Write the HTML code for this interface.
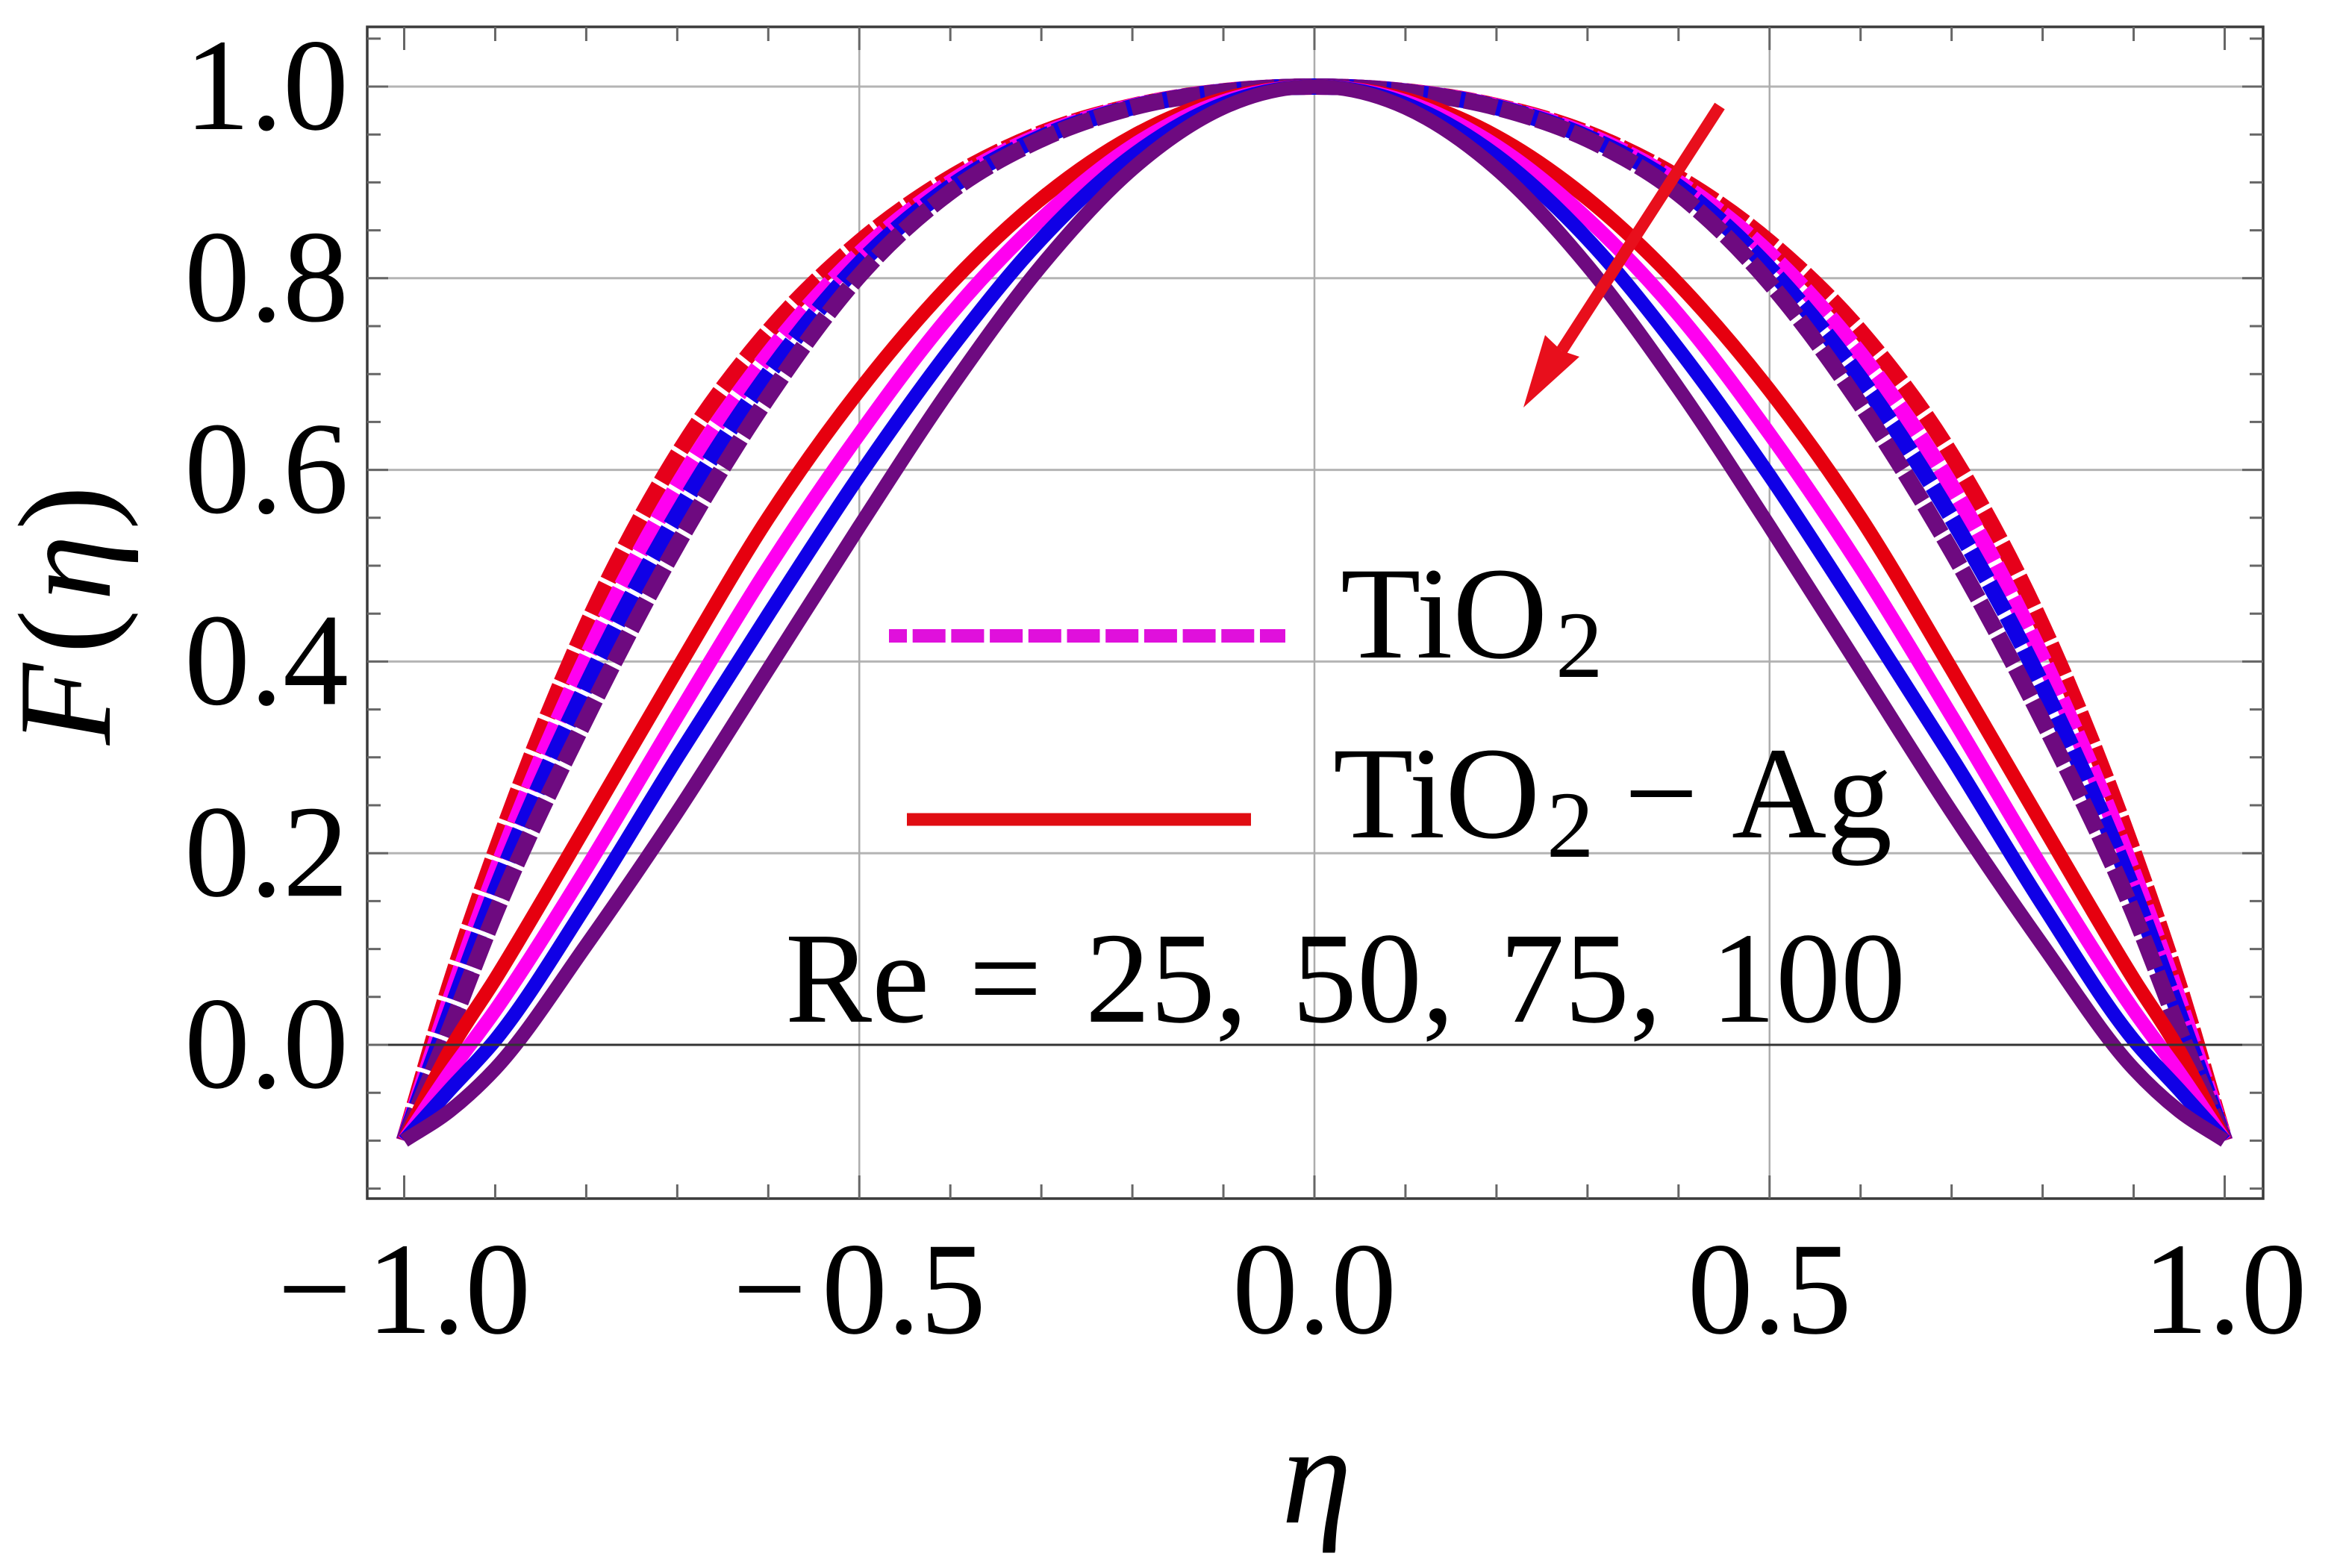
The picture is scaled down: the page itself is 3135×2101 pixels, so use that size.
<!DOCTYPE html>
<html>
<head>
<meta charset="utf-8">
<title>F(eta) chart</title>
<style>
html,body{margin:0;padding:0;background:#fff;}
svg{display:block;}
text{font-family:"Liberation Serif","DejaVu Serif",serif;fill:#000;}
</style>
</head>
<body>
<svg id="chart" xmlns="http://www.w3.org/2000/svg" width="3135" height="2101" viewBox="0 0 3135 2101">
  <rect x="0" y="0" width="3135" height="2101" fill="#ffffff"/>
  <g id="grid"></g>
  <g id="curves"></g>
  <g id="axes"></g>
  <g id="labels"></g>

  <g>
    <line x1="2304" y1="142" x2="2092" y2="470" stroke="#e80f1c" stroke-width="16"/>
    <polygon points="2041,546 2070,449 2092,470 2116,478" fill="#e80f1c"/>
  </g>

  <g>
    <line x1="1191" y1="852" x2="1722" y2="852" stroke="#e010dc" stroke-width="18" stroke-dasharray="44 7.7" stroke-dashoffset="20"/>
    <text y="881" font-size="176"><tspan x="1796">TiO</tspan><tspan x="2084" font-size="127" dy="26">2</tspan></text>
    <line x1="1215" y1="1098" x2="1676" y2="1098" stroke="#e00d12" stroke-width="17"/>
    <text y="1122" font-size="176"><tspan x="1786">TiO</tspan><tspan x="2072" font-size="127" dy="26">2</tspan><tspan x="2176" dy="-26">−</tspan><tspan x="2320">Ag</tspan></text>
    <text y="1369" font-size="174"><tspan x="1052">Re</tspan><tspan x="1298">=</tspan><tspan x="1454">25,</tspan><tspan x="1731">50,</tspan><tspan x="2009">75,</tspan><tspan x="2292">100</tspan></text>
  </g>

  <text font-size="178" transform="translate(147,0) rotate(-90)"><tspan x="-998" font-style="italic">F</tspan><tspan x="-876">(</tspan><tspan x="-805" font-style="italic">η</tspan><tspan x="-710">)</tspan></text>
  <text font-size="190" font-style="italic" text-anchor="middle" x="1764" y="2040">η</text>
</svg>
<script>
// ---- data ----
const etaValues = [-1,-0.95,-0.9,-0.8,-0.7,-0.6,-0.5,-0.4,-0.3,-0.2,-0.1,0,0.1,0.2,0.3,0.4,0.5,0.6,0.7,0.8,0.9,0.95,1];

const dashedRed     = [-0.1,0.0614,0.2005,0.4368,0.6154,0.7444,0.8375,0.9048,0.9514,0.9796,0.9951,1,0.9951,0.9796,0.9514,0.9048,0.8375,0.7444,0.6154,0.4368,0.2005,0.0614,-0.1];
const dashedMagenta = [-0.1,0.0453,0.1781,0.4033,0.5827,0.7204,0.8252,0.8997,0.9493,0.9791,0.9949,1,0.9949,0.9791,0.9493,0.8997,0.8252,0.7204,0.5827,0.4033,0.1781,0.0453,-0.1];
const dashedBlue    = [-0.1,0.0317,0.1598,0.3746,0.5535,0.6999,0.8148,0.8951,0.9471,0.9785,0.9948,1,0.9948,0.9785,0.9471,0.8951,0.81,0.695,0.55,0.3746,0.1598,0.0317,-0.1];
const dashedPurple  = [-0.1,0.016,0.137,0.341,0.522,0.676,0.8025,0.89,0.945,0.978,0.9946,1,0.9946,0.978,0.945,0.888,0.795,0.668,0.515,0.338,0.137,0.016,-0.1];

const solidRed     = [-0.1,-0.006,0.0685,0.229,0.392,0.55,0.683,0.794,0.883,0.948,0.987,1,0.987,0.948,0.883,0.794,0.683,0.55,0.392,0.229,0.0685,-0.006,-0.1];
const solidMagenta = [-0.1,-0.029,0.036,0.184,0.343,0.498,0.6375,0.762,0.862,0.938,0.9845,1,0.9845,0.938,0.862,0.762,0.6375,0.498,0.343,0.184,0.036,-0.029,-0.1];
const solidBlue    = [-0.1,-0.047,0.005,0.146,0.3,0.449,0.594,0.726,0.841,0.928,0.982,1,0.982,0.928,0.841,0.726,0.594,0.449,0.3,0.146,0.005,-0.047,-0.1];
const solidPurple  = [-0.1,-0.069,-0.025,0.104,0.243,0.392,0.541,0.685,0.813,0.914,0.978,1,0.978,0.914,0.813,0.685,0.541,0.392,0.243,0.104,-0.025,-0.069,-0.1];

const yTickLabels = ["0.0","0.2","0.4","0.6","0.8","1.0"];
const xTickLabels = ["−1.0","−0.5","0.0","0.5","1.0"];
const yGridValues = [0.2,0.4,0.6,0.8,1.0];
const xGridValues = [-0.5,0,0.5];

// ---- axis functions ----
function X(v){ return 1761 + 1219.5 * v; }
function Y(v){ return 1400 - 1284 * v; }
const frame = {l:492, r:3032, t:36, b:1606};
const NS = 'http://www.w3.org/2000/svg';
function mk(tag, attrs, parent){
  const el = document.createElementNS(NS, tag);
  for (const k in attrs) el.setAttribute(k, attrs[k]);
  parent.appendChild(el);
  return el;
}
function curvePath(xs, ys){
  const px = xs.map(X), py = ys.map(Y);
  const n = px.length;
  const m = [];
  for (let i = 0; i < n; i++){
    if (i === 0) m.push((py[1]-py[0])/(px[1]-px[0]));
    else if (i === n-1) m.push((py[n-1]-py[n-2])/(px[n-1]-px[n-2]));
    else {
      const h0 = px[i]-px[i-1], h1 = px[i+1]-px[i];
      const s0 = (py[i]-py[i-1])/h0, s1 = (py[i+1]-py[i])/h1;
      m.push((s0*h1 + s1*h0)/(h0+h1));
    }
  }
  let d = 'M' + px[0].toFixed(1) + ' ' + py[0].toFixed(1);
  for (let i = 0; i < n-1; i++){
    const h = (px[i+1]-px[i])/3;
    d += ' C' + (px[i]+h).toFixed(1) + ' ' + (py[i]+m[i]*h).toFixed(1) + ' ' +
         (px[i+1]-h).toFixed(1) + ' ' + (py[i+1]-m[i+1]*h).toFixed(1) + ' ' +
         px[i+1].toFixed(1) + ' ' + py[i+1].toFixed(1);
  }
  return d;
}

// ---- grid ----
const gridG = document.getElementById('grid');
yGridValues.forEach(function(v){
  const ln = mk('line', {x1:frame.l, x2:frame.r, y1:Y(v), y2:Y(v), stroke:'#b4b4b4', 'stroke-width':3}, gridG);
  
  
});
xGridValues.forEach(function(v){
  const ln = mk('line', {x1:X(v), x2:X(v), y1:frame.t, y2:frame.b, stroke:'#adadad', 'stroke-width':2.5}, gridG);
  
  
});

// ---- curves ----
const curvesG = document.getElementById('curves');
const dashedSeries = [
  {name:'tio2-re-25', vals:dashedRed, col:'#e6001a'},
  {name:'tio2-re-50', vals:dashedMagenta, col:'#ff00f0'},
  {name:'tio2-re-75', vals:dashedBlue, col:'#1000e6'},
  {name:'tio2-re-100', vals:dashedPurple, col:'#6e0a80'}
];
const solidSeries = [
  {name:'tio2-ag-re-25', vals:solidRed, col:'#e6000f'},
  {name:'tio2-ag-re-50', vals:solidMagenta, col:'#ff00f0'},
  {name:'tio2-ag-re-75', vals:solidBlue, col:'#1000e6'},
  {name:'tio2-ag-re-100', vals:solidPurple, col:'#6e0a80'}
];
dashedSeries.forEach(function(s){
  const p = mk('path', {d:curvePath(etaValues, s.vals), fill:'none', stroke:s.col, 'stroke-width':22, 'stroke-dasharray':'44 6'}, curvesG);
  
  
});
solidSeries.forEach(function(s){
  const p = mk('path', {d:curvePath(etaValues, s.vals), fill:'none', stroke:s.col, 'stroke-width':19}, curvesG);
  
  
});

// ---- axes ----
const axesG = document.getElementById('axes');
const zero = mk('line', {x1:frame.l, x2:frame.r, y1:Y(0), y2:Y(0), stroke:'#333', 'stroke-width':3}, axesG);


const box = mk('rect', {x:frame.l, y:frame.t, width:frame.r-frame.l, height:frame.b-frame.t, fill:'none', stroke:'#3a3a3a', 'stroke-width':3.5}, axesG);


for (let i = 0; i <= 24; i++){
  const v = -0.15 + i*0.05;
  const major = i % 4 === 3;
  const len = major ? 28 : 18;
  const a = mk('line', {x1:frame.l, x2:frame.l+len, y1:Y(v), y2:Y(v), stroke:'#666', 'stroke-width':3}, axesG);
  
  
  const b = mk('line', {x1:frame.r, x2:frame.r-len, y1:Y(v), y2:Y(v), stroke:'#666', 'stroke-width':3}, axesG);
  
  
}
for (let i = 0; i <= 20; i++){
  const v = -1 + i*0.1;
  const major = i % 5 === 0;
  const len = major ? 31 : 19;
  const a = mk('line', {x1:X(v), x2:X(v), y1:frame.b, y2:frame.b-len, stroke:'#666', 'stroke-width':3}, axesG);
  
  
  const b = mk('line', {x1:X(v), x2:X(v), y1:frame.t, y2:frame.t+len, stroke:'#666', 'stroke-width':3}, axesG);
  
  
}

// ---- tick labels ----
const labelsG = document.getElementById('labels');
yTickLabels.forEach(function(t){
  const el = mk('text', {x:467, y:Y(parseFloat(t))+57, 'font-size':176, 'text-anchor':'end'}, labelsG);
  el.textContent = t;
  
  
});
xTickLabels.forEach(function(t){
  const v = parseFloat(t.replace('−','-'));
  const el = mk('text', {x:X(v), y:1786, 'font-size':176, 'text-anchor':'middle'}, labelsG);
  if (t.charAt(0) === '−'){
    const m = mk('tspan', {}, el);
    m.textContent = '−';
    
    
    const r = mk('tspan', {dx:20}, el);
    r.textContent = t.slice(1);
    
    
  } else {
    el.textContent = t;
  }
  
  
});
</script>
</body>
</html>
